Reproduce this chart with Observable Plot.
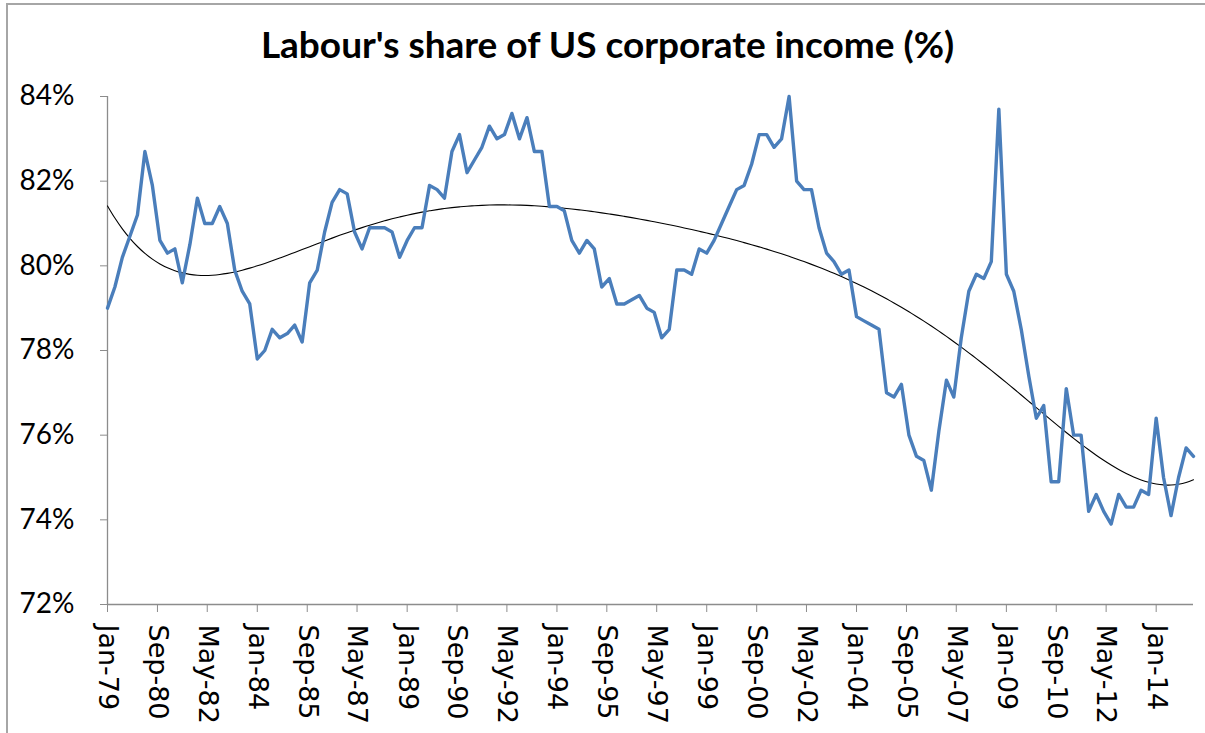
<!DOCTYPE html>
<html><head><meta charset="utf-8">
<script src="https://cdn.jsdelivr.net/npm/d3@7"></script>
<script src="https://cdn.jsdelivr.net/npm/@observablehq/plot@0.6"></script>
<style>
html,body{margin:0;padding:0;background:#fff;overflow:hidden;width:1205px;height:733px;}
#frame{position:absolute;left:6px;top:3px;width:1400px;height:900px;border-top:2px solid #a6a6a6;border-left:2px solid #a6a6a6;}
#title{position:absolute;left:0;top:20px;width:1215px;text-align:center;font-family:Lato;font-weight:bold;font-size:37px;line-height:48px;color:#000;z-index:2;}
#chart{position:absolute;left:0;top:55px;z-index:1;}
</style></head><body>
<div id="frame"></div>
<div id="chart"></div>
<div id="title">Labour's share of US corporate income (%)</div>
<script>
// Quarterly series, first quarter = Jan-79
const firstQuarter = "Jan-79";
const labourShare = [
  79.0, 79.5, 80.2, 80.7, 81.2, 82.7, 81.9, 80.6, 80.3, 80.4, 79.6, 80.5, 81.6, 81.0, 81.0, 81.4, 81.0, 79.9, 79.4, 79.1, 77.8, 78.0, 78.5, 78.3,
  78.4, 78.6, 78.2, 79.6, 79.9, 80.8, 81.5, 81.8, 81.7, 80.8, 80.4, 80.9, 80.9, 80.9, 80.8, 80.2, 80.6, 80.9, 80.9, 81.9, 81.8, 81.6, 82.7, 83.1, 82.2,
  82.5, 82.8, 83.3, 83.0, 83.1, 83.6, 83.0, 83.5, 82.7, 82.7, 81.4, 81.4, 81.3, 80.6, 80.3, 80.6, 80.4, 79.5, 79.7, 79.1, 79.1, 79.2, 79.3, 79.0, 78.9,
  78.3, 78.5, 79.9, 79.9, 79.8, 80.4, 80.3, 80.6, 81.0, 81.4, 81.8, 81.9, 82.4, 83.1, 83.1, 82.8, 83.0, 84.0, 82.0, 81.8, 81.8, 80.9, 80.3, 80.1, 79.8,
  79.9, 78.8, 78.7, 78.6, 78.5, 77.0, 76.9, 77.2, 76.0, 75.5, 75.4, 74.7, 76.1, 77.3, 76.9, 78.3, 79.4, 79.8, 79.7, 80.1, 83.7, 79.8, 79.4, 78.5,
  77.4, 76.4, 76.7, 74.9, 74.9, 77.1, 76.0, 76.0, 74.2, 74.6, 74.2, 73.9, 74.6, 74.3, 74.3, 74.7, 74.6, 76.4, 75.0, 74.1, 75.0, 75.7, 75.5
];
const yTicks = [72, 74, 76, 78, 80, 82, 84];
const xTickLabels = ["Jan-79","Sep-80","May-82","Jan-84","Sep-85","May-87","Jan-89","Sep-90","May-92","Jan-94","Sep-95","May-97",
  "Jan-99","Sep-00","May-02","Jan-04","Sep-05","May-07","Jan-09","Sep-10","May-12","Jan-14"];
const trendDegree = 6;

const parse = d3.utcParse("%b-%y");
const fmt = d3.utcFormat("%b-%y");
const start = parse(firstQuarter);
const data = labourShare.map((v, i) => ({date: d3.utcMonth.offset(start, 3 * i), value: v}));
const tickDates = xTickLabels.map(parse);

// Polynomial least-squares trendline of the series, as in the spreadsheet
const t0 = +data[0].date, t1 = +data[data.length - 1].date;
const norm = d => (2 * (+d - t0) / (t1 - t0)) - 1;
function polyfit(xs, ys, deg) {
  const n = deg + 1;
  const A = Array.from({length: n}, () => Array(n + 1).fill(0));
  for (let k = 0; k < xs.length; k++) {
    const p = [];
    for (let j = 0; j < n; j++) p.push(Math.pow(xs[k], j));
    for (let r = 0; r < n; r++) {
      for (let c = 0; c < n; c++) A[r][c] += p[r] * p[c];
      A[r][n] += p[r] * ys[k];
    }
  }
  for (let i = 0; i < n; i++) {
    let m = i;
    for (let r = i + 1; r < n; r++) if (Math.abs(A[r][i]) > Math.abs(A[m][i])) m = r;
    [A[i], A[m]] = [A[m], A[i]];
    for (let r = 0; r < n; r++) if (r !== i) {
      const f = A[r][i] / A[i][i];
      for (let c = i; c <= n; c++) A[r][c] -= f * A[i][c];
    }
  }
  return A.map((row, i) => row[n] / row[i]);
}
const coef = polyfit(data.map(d => norm(d.date)), data.map(d => d.value), trendDegree);
const evalPoly = x => coef.reduce((s, c, j) => s + c * Math.pow(x, j), 0);
const trend = data.map(d => ({date: d.date, value: evalPoly(norm(d.date))}));

const axisGrey = "#8c8c8c";
const chart = Plot.plot({
  width: 1205,
  height: 678,
  marginLeft: 107,
  marginRight: 12,
  marginTop: 41,
  marginBottom: 129,
  style: {background: "transparent"},
  x: {type: "utc", domain: [start, data[data.length - 1].date], label: null},
  y: {domain: [72, 84], label: null},
  marks: [
    Plot.ruleY([72], {stroke: axisGrey, strokeWidth: 1.3}),
    Plot.ruleX([start], {stroke: axisGrey, strokeWidth: 1.3}),
    Plot.axisY(yTicks, {tickSize: 7, tickPadding: 26, tickFormat: d => d + "%", fontSize: 28, fontFamily: "Lato", stroke: axisGrey, fill: "#000", label: null}),
    Plot.axisX(tickDates, {tickSize: 8, tickPadding: 12, tickRotate: 90, tickFormat: fmt, fontSize: 27, fontFamily: "DejaVu Sans", stroke: axisGrey, fill: "#000", label: null}),
    Plot.lineY(trend, {x: "date", y: "value", stroke: "#000", strokeWidth: 1.1, curve: "natural"}),
    Plot.lineY(data, {x: "date", y: "value", stroke: "#4a7ebb", strokeWidth: 3.4, strokeLinejoin: "round"})
  ]
});
document.getElementById("chart").appendChild(chart);
</script>
</body></html>
